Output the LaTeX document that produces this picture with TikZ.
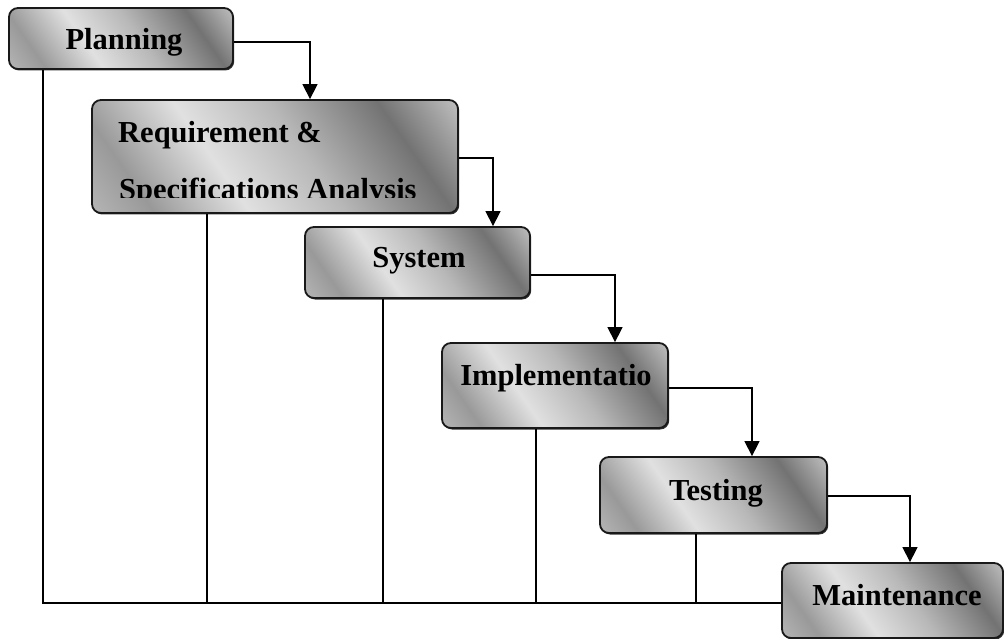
\documentclass[tikz,border=0pt]{standalone}
\usepackage{fontspec}
\setmainfont{Liberation Serif}
\usetikzlibrary{arrows.meta,shadows}
\pgfdeclarehorizontalshading{mott}{100bp}{color(0bp)=(black!12); color(25bp)=(black!40); color(40bp)=(black!12); color(55bp)=(black!28); color(72bp)=(black!55); color(86bp)=(black!22); color(100bp)=(black!35)}
\tikzset{
  phase/.style={draw=black!90, line width=1.8pt, rounded corners=9pt, shading=mott, shading angle=35,
    drop shadow={shadow xshift=1.2pt, shadow yshift=-1.5pt, fill=black!80, opacity=1},
    inner sep=0pt},
  lbl/.style={font=\bfseries\fontsize{30.5}{36}\selectfont, inner sep=0pt, text=black},
  conn/.style={line width=1.4pt, black},
  arr/.style={conn, -{Triangle[width=15pt,length=15pt]}}
}
\begin{document}
\begin{tikzpicture}[x=1pt,y=-1pt]
\useasboundingbox[fill=white] (0,0) rectangle (1004,639);
% boxes
\node[phase, minimum width=224pt, minimum height=61pt] (plan) at (121,38.5) {};
\node[phase, minimum width=366pt, minimum height=113pt] (req) at (275,156.5) {};
\node[phase, minimum width=225pt, minimum height=71pt] (sys) at (417.5,262.5) {};
\node[phase, minimum width=226pt, minimum height=85pt] (imp) at (555,385.5) {};
\node[phase, minimum width=227pt, minimum height=76pt] (tst) at (713.5,495) {};
\node[phase, minimum width=221pt, minimum height=75pt] (mnt) at (892.5,600.5) {};
% labels
\node[lbl, anchor=base] (tplan) at (124,50) {Planning};
\node[lbl, anchor=base west] (treq1) at (118,143) {Requirement \&};
\begin{scope}
\clip (0,0) rectangle (1004,198);
\node[lbl, anchor=base west] (treq2) at (119,200) {Specifications Analysis};
\end{scope}
\node[lbl, anchor=base] (tsys) at (419,268) {System};
\node[lbl, anchor=base] (timp) at (556,385) {Implementatio};
\node[lbl, anchor=base] (ttst) at (716,500) {Testing};
\node[lbl, anchor=base] (tmnt) at (897,605) {Maintenance};
% flow arrows
\draw[arr] (plan.east |- 0,42) -| (310,0 |- req.north);
\draw[arr] (req.east |- 0,158) -| (493,0 |- sys.north);
\draw[arr] (sys.east |- 0,275) -| (615,0 |- imp.north);
\draw[arr] (imp.east |- 0,388) -| (752,0 |- tst.north);
\draw[arr] (tst.east |- 0,496) -| (910,0 |- mnt.north);
% feedback lines
\coordinate (bl) at (43,603);
\draw[conn] (43,0 |- plan.south) -- (bl) -- (mnt.west |- bl);
\draw[conn] (207,0 |- req.south) -- (207,0 |- bl);
\draw[conn] (383,0 |- sys.south) -- (383,0 |- bl);
\draw[conn] (536,0 |- imp.south) -- (536,0 |- bl);
\draw[conn] (696,0 |- tst.south) -- (696,0 |- bl);
\end{tikzpicture}
\end{document}
